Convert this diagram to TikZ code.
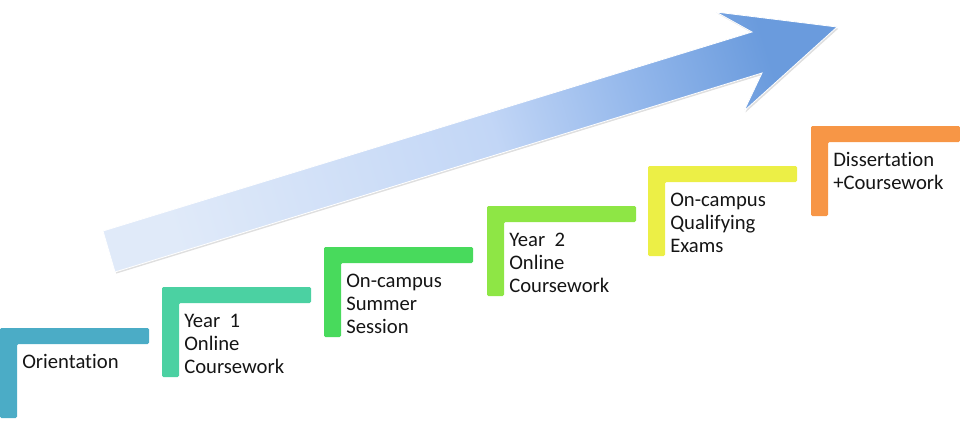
\documentclass[tikz,border=0pt]{standalone}
\usepackage{fontspec}
\setmainfont{Carlito}[Ligatures={NoCommon}]
\usetikzlibrary{shadows}
\definecolor{cOne}{HTML}{4BACC6}
\definecolor{cTwo}{HTML}{4BD1A2}
\definecolor{cThree}{HTML}{48DA5C}
\definecolor{cFour}{HTML}{8EE645}
\definecolor{cFive}{HTML}{ECEF46}
\definecolor{cSix}{HTML}{F79646}
\definecolor{txt}{HTML}{151515}
\definecolor{aL}{HTML}{E0EAF9}
\definecolor{aM}{HTML}{C2D6F6}
\definecolor{aN}{HTML}{93B7EB}
\definecolor{aR}{HTML}{6A9BDD}
\pgfdeclarehorizontalshading{arrowshade}{100bp}{color(0bp)=(aL); color(25bp)=(aL); color(52bp)=(aM); color(64bp)=(aN); color(75bp)=(aR); color(100bp)=(aR)}
\newcommand\stk[1]{\vtop{\let\\\cr\halign{##\hfil\cr#1\crcr}}}
\tikzset{
  stepbar/.style={rounded corners=1pt},
  steptext/.style={font=\fontsize{15.5pt}{17.25pt}\selectfont, text=txt, inner sep=0pt, anchor=base west},
  bigarrow/.style={shading=arrowshade, shading angle=17, draw=white, line width=0.6pt,
    drop shadow={opacity=0.25, shadow xshift=1pt, shadow yshift=-1.2pt}}
}
\begin{document}
\begin{tikzpicture}[x=0.75pt, y=-0.75pt]
\useasboundingbox (0,0) rectangle (960,432);
% big arrow
\path[bigarrow] (103,231) -- (752,32) -- (716,12) -- (837,27) -- (744,111) -- (762,73) -- (115,272) -- cycle;
% steps
\foreach \i/\x/\y/\c/\t in {
  1/0/328/cOne/{Orientation},
  2/162/287/cTwo/{Year~~1\\Online\\Coursework},
  3/324/247/cThree/{On-campus\\Summer\\Session},
  4/487/206/cFour/{Year~~2\\Online\\Coursework},
  5/648/166/cFive/{On-campus\\Qualifying\\Exams},
  6/811/126/cSix/{Dissertation\\+Coursework}}{
  \fill[stepbar, \c] (\x,\y) -- ++(149,0) -- ++(0,16) -- ++(-132,0) -- ++(0,74) -- ++(-17,0) -- cycle;
  \node[steptext] (s\i) at (\x+22,\y+40) {\stk{\t}};
}
\end{tikzpicture}
\end{document}
